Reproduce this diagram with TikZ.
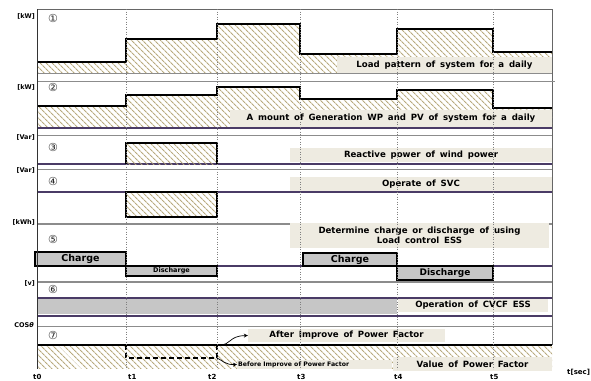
\documentclass[tikz,border=0pt]{standalone}
\usepackage{fontspec}
\setmainfont[WordSpace=1.6]{DejaVu Sans}
\newfontfamily\circfont{DejaVu Sans}
\usetikzlibrary{patterns.meta,arrows.meta}
\definecolor{hatchc}{HTML}{B8AA7E}
\definecolor{boxc}{HTML}{EEEBE1}
\definecolor{purp}{HTML}{4A3B66}
\definecolor{bandc}{HTML}{C6C6C6}
\definecolor{gridc}{HTML}{8C8C8C}
\tikzset{
  hatch/.style={pattern={Lines[angle=-45,distance=4pt,line width=1.15pt]},pattern color=hatchc},
  lbl/.style={fill=boxc,font=\bfseries\fontsize{8.6}{10.5}\selectfont,inner sep=0pt,align=center},
  unit/.style={font=\bfseries\fontsize{6.5}{7}\selectfont,anchor=east,inner sep=0pt},
  circ/.style={font=\circfont\fontsize{11}{11}\selectfont,inner sep=0pt,text=black!85},
  tick/.style={font=\bfseries\fontsize{7}{8}\selectfont,anchor=west,inner sep=0pt},
  stepline/.style={line width=1.5pt,black},
  thinrule/.style={gridc,line width=0.6pt},
  grayrule/.style={gridc,line width=1.1pt},
  purprule/.style={purp,line width=1.4pt},
  grid/.style={gray,dotted,line width=0.5pt},
  essbox/.style={fill=bandc,draw=black,line width=1.3pt},
}
\begin{document}
\begin{tikzpicture}[x=1pt,y=-1pt]
\useasboundingbox (0,0) rectangle (591,380);
% ---------- panel 1
\fill[hatch] (37,73) -- (37,62) -- (126,62) -- (126,39) -- (217,39) -- (217,24) -- (300,24) -- (300,54) -- (397,54) -- (397,29) -- (493,29) -- (493,52) -- (552,52) -- (552,73) -- cycle;
\draw[stepline] (37,62) -- (126,62) -- (126,39) -- (217,39) -- (217,24) -- (300,24) -- (300,54) -- (397,54) -- (397,29) -- (493,29) -- (493,52) -- (552,52);
\draw[gray!80!black,line width=0.6pt] (37,9) -- (552,9) -- (552,345);
\draw[thinrule] (37,73) -- (552,73);
\draw[thinrule] (37,81) -- (555,81);
\node[lbl,minimum width=215pt,minimum height=16pt] (l1) at (444.5,65) {Load pattern of system for a daily};
% ---------- panel 2
\fill[hatch] (37,128) -- (37,106) -- (126,106) -- (126,95) -- (217,95) -- (217,87) -- (300,87) -- (300,99) -- (397,99) -- (397,90) -- (493,90) -- (493,108) -- (552,108) -- (552,128) -- cycle;
\draw[stepline] (37,106) -- (126,106) -- (126,95) -- (217,95) -- (217,87) -- (300,87) -- (300,99) -- (397,99) -- (397,90) -- (493,90) -- (493,108) -- (552,108);
\node[lbl,minimum width=322pt,minimum height=17pt] (l2) at (391,118.5) {A mount of Generation WP and PV of system for a daily};
\draw[purprule] (37,128) -- (552,128);
% ---------- panel 3
\draw[thinrule] (37,135) -- (552,135);
\node[lbl,minimum width=262pt,minimum height=14pt] (l3) at (421,155) {Reactive power of wind power};
\draw[purprule] (37,164) -- (552,164);
\fill[hatch] (126,143) rectangle (217,164);
\draw[line width=1.5pt] (126,164) -- (126,143) -- (217,143) -- (217,164);
% ---------- panel 4
\draw[thinrule] (37,169) -- (552,169);
\node[lbl,minimum width=262pt,minimum height=15pt] (l4) at (421,184.5) {Operate of SVC};
\draw[purprule] (37,192) -- (552,192);
\fill[hatch] (126,192) rectangle (217,217);
\draw[line width=1.5pt] (126,192) rectangle (217,217);
% ---------- panel 5
\draw[grayrule] (37,224) -- (552,224);
\node[lbl,minimum width=259pt,minimum height=25pt] (l5) at (419.5,235.5) {Determine charge or discharge of using\\Load control ESS};
\draw[purprule] (37,266) -- (552,266);
\node[essbox,minimum width=91pt,minimum height=14pt,inner sep=0pt,font=\bfseries\fontsize{9.5}{10}\selectfont] (ch1) at (80.5,259) {Charge};
\node[essbox,minimum width=91pt,minimum height=10pt,inner sep=0pt,font=\bfseries\fontsize{6.5}{7}\selectfont] (dc1) at (171.5,271) {Discharge};
\node[essbox,minimum width=94pt,minimum height=13pt,inner sep=0pt,font=\bfseries\fontsize{9.5}{10}\selectfont] (ch2) at (350,259.5) {Charge};
\node[essbox,minimum width=96pt,minimum height=14pt,inner sep=0pt,font=\bfseries\fontsize{9}{10}\selectfont] (dc2) at (445,273) {Discharge};
% ---------- panel 6
\draw[grayrule] (37,282) -- (552,282);
\fill[bandc] (37,298) rectangle (397,314);
\node[lbl,minimum width=150pt,minimum height=14pt] (l6) at (473,305) {Operation of CVCF ESS};
\draw[purp,line width=1.2pt] (37,298) -- (552,298);
\draw[purprule] (37,316) -- (552,316);
% ---------- panel 7
\draw[thinrule] (37,326) -- (552,326);
\fill[hatch] (37,345) rectangle (552,368);
\draw[stepline] (37,345) -- (552,345);
\draw[line width=1.3pt,dash pattern=on 5pt off 3pt] (126,345) -- (126,358) -- (217,358) -- (217,345);
\node[lbl,minimum width=197pt,minimum height=13pt] (aft) at (346.5,335.5) {After Improve of Power Factor};
\node[fill=boxc,inner sep=0pt,minimum width=155pt,minimum height=9pt,font=\bfseries\fontsize{6.2}{7}\selectfont,anchor=west,align=left,text width=155pt] (bef) at (237,364.5) {\hspace{1pt}Before Improve of Power Factor};
\node[lbl,minimum width=159pt,minimum height=14pt] (val) at (472.5,364) {Value of Power Factor};
\coordinate (a0) at (219,345);
\coordinate (b0) at (217,358);
\draw[-{Stealth[length=4pt,width=4pt]},line width=0.7pt] (a0) .. controls (232,345) and (228,336) .. (aft.west);
\draw[-{Stealth[length=4pt,width=4pt]},line width=0.7pt] (b0) .. controls (222,360) and (225,365) .. (bef.west);
% ---------- axes and grid
\foreach \x in {126,217,300,397,493} \draw[grid] (\x,9) -- (\x,369);
\draw[black!80,line width=0.8pt] (37,9) -- (37,369);
% ---------- left labels
\node[unit] (u1) at (35,16) {[kW]};
\node[unit] (u2) at (35,87) {[kW]};
\node[unit] (u3) at (35,137) {[Var]};
\node[unit] (u4) at (35,170) {[Var]};
\node[unit] (u5) at (35,222) {[kWh]};
\node[unit] (u6) at (35,283) {[v]};
\node[unit] (u7) at (34,325) {COS{\itshape θ}};
\node[circ] (n1) at (53,18) {①};
\node[circ] (n2) at (53,87) {②};
\node[circ] (n3) at (53,147) {③};
\node[circ] (n4) at (53,181) {④};
\node[circ] (n5) at (53,239) {⑤};
\node[circ] (n6) at (53,289) {⑥};
\node[circ] (n7) at (53,335) {⑦};
% ---------- time labels
\node[tick] (t0) at (33,377) {t0};
\node[tick] (t1) at (128,377) {t1};
\node[tick] (t2) at (208,377) {t2};
\node[tick] (t3) at (297,377) {t3};
\node[tick] (t4) at (394,377) {t4};
\node[tick] (t5) at (490,377) {t5};
\node[tick] (ts) at (567,372) {t[sec]};
\end{tikzpicture}
\end{document}
